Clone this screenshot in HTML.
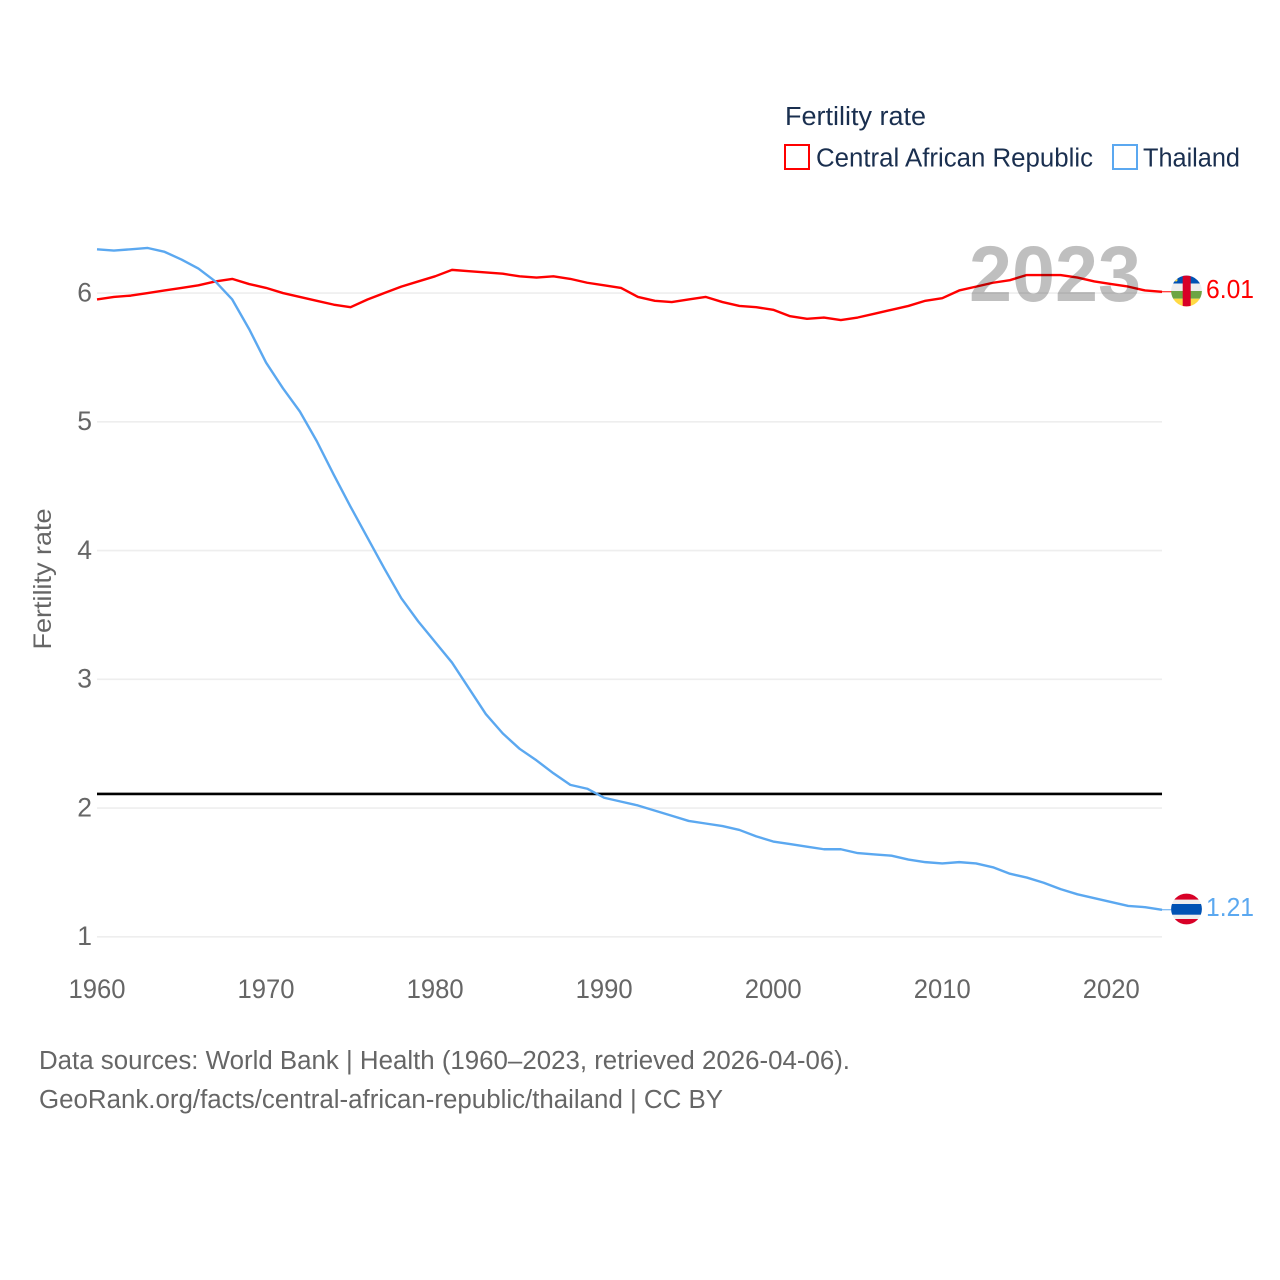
<!DOCTYPE html>
<html lang="en">
<head>
<meta charset="utf-8">
<title>Fertility rate: Central African Republic and Thailand</title>
<style>
html,body{margin:0;padding:0;background:#fff;width:1280px;height:1280px;overflow:hidden}
svg{display:block;font-family:"Liberation Sans",sans-serif}
</style>
</head>
<body>
<svg id="chart" xmlns="http://www.w3.org/2000/svg" width="1280" height="1280" viewBox="0 0 1280 1280">
  <defs>
    <clipPath id="flag-clip-caf"><circle cx="1186.5" cy="291" r="15.4"/></clipPath>
    <clipPath id="flag-clip-tha"><circle cx="1186.5" cy="909" r="15.4"/></clipPath>
  </defs>
  <g id="grid"></g>
  <g id="yticks"></g>
  <g id="xticks"></g>
  <text transform="translate(51 579) rotate(-90)" text-anchor="middle" font-size="25" fill="#666" textLength="141" lengthAdjust="spacingAndGlyphs">Fertility rate</text>
  <g id="series"></g>
  <text id="year" x="969" y="301" font-size="79" font-weight="700" fill="#000" fill-opacity="0.25" textLength="172" lengthAdjust="spacingAndGlyphs">2023</text>

  <g clip-path="url(#flag-clip-caf)">
    <rect x="1170" y="275" width="33" height="8.5" fill="#0052b4"/>
    <rect x="1170" y="283.5" width="33" height="7.5" fill="#eeeeee"/>
    <rect x="1170" y="291" width="33" height="7.7" fill="#6da544"/>
    <rect x="1170" y="298.7" width="33" height="8.3" fill="#ffda44"/>
    <rect x="1182.7" y="275" width="8" height="32" fill="#d80027"/>
    <circle cx="1176" cy="280" r="1.5" fill="#ffda44"/>
  </g>
  <g clip-path="url(#flag-clip-tha)">
    <rect x="1170" y="893" width="33" height="32" fill="#eeeeee"/>
    <rect x="1170" y="893" width="33" height="6.6" fill="#d80027"/>
    <rect x="1170" y="919" width="33" height="6" fill="#d80027"/>
    <rect x="1170" y="904" width="33" height="10.7" fill="#0052b4"/>
  </g>

  <g>
    <text x="785" y="125" font-size="25.5" fill="#1a2f4f" textLength="141" lengthAdjust="spacingAndGlyphs">Fertility rate</text>
    <g>
      <rect x="785" y="145" width="24" height="24" fill="#fff" stroke="#ff0000" stroke-width="2"/>
      <text x="816" y="166.5" font-size="25.5" fill="#1a2f4f" textLength="277" lengthAdjust="spacingAndGlyphs">Central African Republic</text>
    </g>
    <g>
      <rect x="1113" y="145" width="24" height="24" fill="#fff" stroke="#5ba8f0" stroke-width="2"/>
      <text x="1143" y="166.5" font-size="25.5" fill="#1a2f4f" textLength="97" lengthAdjust="spacingAndGlyphs">Thailand</text>
    </g>
  </g>

  <text x="39" y="1069" font-size="25.5" fill="#666" textLength="811" lengthAdjust="spacingAndGlyphs">Data sources: World Bank | Health (1960–2023, retrieved 2026-04-06).</text>
  <text x="39" y="1108" font-size="25.5" fill="#666" textLength="684" lengthAdjust="spacingAndGlyphs">GeoRank.org/facts/central-african-republic/thailand | CC BY</text>
</svg>
<script>
const startYear = 1960;
const yTicks = [1, 2, 3, 4, 5, 6];
const xTicks = [1960, 1970, 1980, 1990, 2000, 2010, 2020];
const replacementRate = [2.11, 2.11];
const centralAfricanRepublic = [
  5.95, 5.97, 5.98, 6.00, 6.02, 6.04, 6.06, 6.09, 6.11, 6.07,
  6.04, 6.00, 5.97, 5.94, 5.91, 5.89, 5.95, 6.00, 6.05, 6.09,
  6.13, 6.18, 6.17, 6.16, 6.15, 6.13, 6.12, 6.13, 6.11, 6.08,
  6.06, 6.04, 5.97, 5.94, 5.93, 5.95, 5.97, 5.93, 5.90, 5.89,
  5.87, 5.82, 5.80, 5.81, 5.79, 5.81, 5.84, 5.87, 5.90, 5.94,
  5.96, 6.02, 6.05, 6.08, 6.10, 6.14, 6.14, 6.14, 6.12, 6.09,
  6.07, 6.05, 6.02, 6.01
];
const thailand = [
  6.34, 6.33, 6.34, 6.35, 6.32, 6.26, 6.19, 6.09, 5.95, 5.72,
  5.46, 5.26, 5.08, 4.85, 4.59, 4.34, 4.10, 3.86, 3.63, 3.45,
  3.29, 3.13, 2.93, 2.73, 2.58, 2.46, 2.37, 2.27, 2.18, 2.15,
  2.08, 2.05, 2.02, 1.98, 1.94, 1.90, 1.88, 1.86, 1.83, 1.78,
  1.74, 1.72, 1.70, 1.68, 1.68, 1.65, 1.64, 1.63, 1.60, 1.58,
  1.57, 1.58, 1.57, 1.54, 1.49, 1.46, 1.42, 1.37, 1.33, 1.30,
  1.27, 1.24, 1.23, 1.21
];

const NS = 'http://www.w3.org/2000/svg';
const xScale = function (year) { return 97 + (year - startYear) * 16.905; };
const yScale = function (v) { return 936.8 - (v - 1) * 128.75; };
const lastYear = startYear + thailand.length - 1;

function make(tag, attrs, parent, text) {
  const el = document.createElementNS(NS, tag);
  Object.keys(attrs).forEach(function (k) { el.setAttribute(k, attrs[k]); });
  if (text !== undefined) el.textContent = text;
  parent.appendChild(el);
  return el;
}
function linePoints(values) {
  return values.map(function (v, i) {
    return xScale(startYear + i).toFixed(2) + ',' + yScale(v).toFixed(2);
  }).join(' ');
}

const grid = document.getElementById('grid');
const yG = document.getElementById('yticks');
const xG = document.getElementById('xticks');
const series = document.getElementById('series');

yTicks.forEach(function (t) {
  const line = make('line', {x1: xScale(startYear), x2: xScale(lastYear), y1: yScale(t), y2: yScale(t), stroke: '#eeeeee', 'stroke-width': 1.6}, grid);
  
  
  const label = make('text', {x: 92, y: yScale(t) + 8.3, 'text-anchor': 'end', 'font-size': 26.5, fill: '#666'}, yG, String(t));
  
  
});

xTicks.forEach(function (t) {
  const label = make('text', {x: xScale(t), y: 998, 'text-anchor': 'middle', 'font-size': 26.5, fill: '#666', textLength: 57, lengthAdjust: 'spacingAndGlyphs'}, xG, String(t));
  
  
});

const refLine = make('line', {x1: xScale(startYear), x2: xScale(lastYear), y1: yScale(replacementRate[0]), y2: yScale(replacementRate[1]), stroke: '#000', 'stroke-width': 2.6}, series);



const cafLine = make('polyline', {points: linePoints(centralAfricanRepublic), fill: 'none', stroke: '#ff0000', 'stroke-width': 2.4, 'stroke-linejoin': 'round'}, series);



const thaLine = make('polyline', {points: linePoints(thailand), fill: 'none', stroke: '#5ba8f0', 'stroke-width': 2.4, 'stroke-linejoin': 'round'}, series);



const cafLast = centralAfricanRepublic[centralAfricanRepublic.length - 1];
const thaLast = thailand[thailand.length - 1];

const cafConn = make('line', {x1: xScale(lastYear), x2: 1172, y1: yScale(cafLast), y2: yScale(cafLast), stroke: '#ff0000', 'stroke-width': 1}, series);



const thaConn = make('line', {x1: xScale(lastYear), x2: 1172, y1: yScale(thaLast), y2: yScale(thaLast), stroke: '#5ba8f0', 'stroke-width': 1}, series);



const cafVal = make('text', {x: 1206, y: yScale(cafLast) + 6, 'font-size': 26, fill: '#ff0000', textLength: 48, lengthAdjust: 'spacingAndGlyphs'}, series, cafLast.toFixed(2));



const thaVal = make('text', {x: 1206, y: yScale(thaLast) + 6, 'font-size': 26, fill: '#5ba8f0', textLength: 48, lengthAdjust: 'spacingAndGlyphs'}, series, thaLast.toFixed(2));


</script>
</body>
</html>
